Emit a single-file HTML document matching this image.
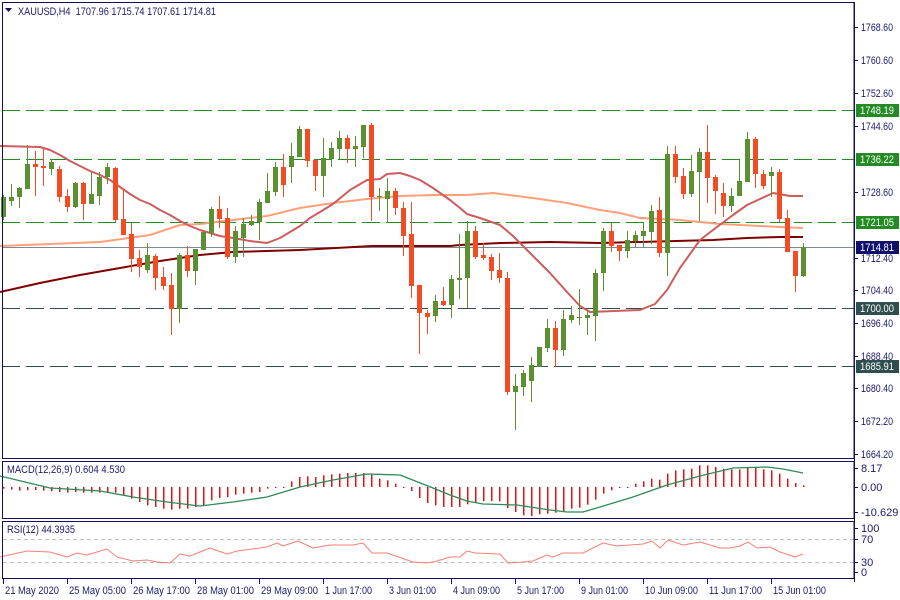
<!DOCTYPE html>
<html><head><meta charset="utf-8"><style>
html,body{margin:0;padding:0;background:#fff;width:900px;height:600px;overflow:hidden}
svg{display:block;font-family:"Liberation Sans",sans-serif}
</style></head><body>
<svg id="s" width="900" height="600" xmlns="http://www.w3.org/2000/svg"></svg>
<script>
var C=[
"g 197 217 195 220","g 197 201 184 206","g 188 197 187 208","g 164 189 145 189","r 164 167 151 196","r 166 168 148 186","g 162 169 159 175","r 169 197 166 202","r 196 207 189 212","g 183 207 182 208",
"r 183 204 182 220","g 194 204 172 204","g 177 196 172 205","g 167 177 163 184","r 168 220 167 222","r 219 235 189 235","r 234 259 223 272","r 258 267 250 277","g 255 270 243 273","r 256 278 254 290",
"r 277 286 267 290","r 285 309 273 335","g 255 309 253 323","r 255 271 246 277","g 249 271 249 285","g 232 250 232 250","g 209 233 207 237","r 209 219 196 228","r 218 257 208 259","g 231 257 226 263",
"g 224 238 218 257","g 221 225 215 226","g 202 222 199 240","g 191 203 173 203","g 167 192 162 196","r 167 185 154 197","g 156 167 143 183","g 129 157 126 157","r 129 161 129 167","r 160 176 160 191",
"g 158 176 138 197","g 148 159 142 167","g 138 149 131 159","r 138 149 135 163","g 146 149 136 167","g 125 147 125 158","r 125 197 123 221","g 196 197 188 211","g 191 199 178 223","r 191 208 188 215",
"r 208 236 202 256","r 234 286 202 298","r 285 313 285 354","r 313 317 310 334","g 301 316 295 322","r 301 305 287 306","g 279 305 275 318","g 278 280 234 299","g 231 278 221 308","r 231 257 226 259",
"r 255 258 243 260","r 257 271 254 280","r 270 278 253 283","r 278 392 272 395","g 386 392 374 430","g 373 387 370 396","g 365 381 357 402","g 347 367 347 367","g 328 348 319 352","r 328 350 321 367",
"g 319 350 310 356","g 315 320 306 323","g 317 318 289 325","g 315 318 310 335","g 273 316 269 341","g 231 273 228 291","r 231 246 223 252","r 245 251 245 261","g 240 251 231 258","g 235 241 231 247",
"g 231 236 223 247","g 211 232 205 244","r 210 253 197 257","g 154 253 146 276","r 154 177 146 183","r 176 194 168 199","g 171 194 155 197","g 152 172 148 221","r 152 178 125 203","r 177 191 175 214",
"r 193 206 183 217","g 196 206 188 212","g 181 196 160 196","g 139 182 132 182","r 139 174 137 188","r 174 186 170 189","g 172 176 167 197","r 172 219 169 222","r 218 252 210 252","r 251 276 251 292",
"g 247 276 243 277"];
var H=[100,103,106,105,104,106,108,110,112,110,112,112,112,110,112,120,130,140,150,155,160,163,160,160,155,150,135,128,125,118,115,112,110,100,97,95,78,65,63,65,60,57,55,53,53,53,58,70,75,85,95,107,128,143,150,155,155,155,147,140,137,137,138,158,170,180,182,177,175,172,167,160,157,148,133,115,105,97,97,85,78,70,73,55,45,42,40,30,30,35,40,42,42,35,38,42,45,55,70,83,90];
var o='';
function L(x1,y1,x2,y2,c,w,d){o+='<line x1="'+x1+'" y1="'+y1+'" x2="'+x2+'" y2="'+y2+'" stroke="'+c+'" stroke-width="'+(w||1)+'"'+(d?' stroke-dasharray="'+d+'"':'')+'/>';}
function T(x,y,t,c,tl){o+='<text x="'+x+'" y="'+y+'" font-size="11" fill="'+(c||'#1b1b6b')+'"'+(tl?' textLength="'+tl+'" lengthAdjust="spacingAndGlyphs"':'')+'>'+t+'</text>';}
function P(pts,c,w){o+='<polyline fill="none" stroke="'+c+'" stroke-width="'+w+'" stroke-linejoin="round" points="'+pts+'"/>';}
L(2,110.5,854,110.5,'#228B22',1,'18 6');L(2,159.5,854,159.5,'#228B22',1,'18 6');L(2,222.5,854,222.5,'#228B22',1,'18 6');
L(2,308.5,854,308.5,'#2F4F4F',1,'18 6');L(2,366.5,854,366.5,'#2F4F4F',1,'18 6');
L(2,247.5,854,247.5,'#7f8a96',1);
P('0,292 40,283 80,275 120,268 160,261 200,255 233,252 300,250 372,246 450,246 460,245 500,243 550,242 600,243 713,240 747,238 780,237 803,237','#800000',2);
P('0,246 50,244 100,242 150,235 180,225 200,224 233,220 267,216 300,208 333,203 367,199 400,196 433,195 467,195 493,193 533,198 567,203 600,210 620,213 640,218 680,220 720,224 760,226 780,227 803,228','#FFA07A',2);
P('0,146 40,147 50,150 60,155 70,161 80,166 90,171 100,175 110,180 120,187 130,194 140,200 150,204 160,210 170,215 180,221 190,226 200,230 210,233 220,236 233,238 250,241 267,243 280,238 300,226 310,218 320,212 333,204 350,190 367,180 380,179 387,174 400,173 410,176 420,180 433,188 450,200 460,208 467,214 480,218 500,225 513,236 533,256 550,273 567,292 580,306 590,312 640,310 655,304 667,290 680,268 700,240 713,230 733,215 747,205 760,199 773,193 790,196 803,196','#CD5C5C',2);
for(var i=0;i<C.length;i++){var a=C[i].split(' '),x=3+8*i,col=a[0]=='g'?'#5B8F31':'#F14C24';
var bt=+a[1],bb=+a[2];if(bb-bt<1)bb=bt+1;
L(x+0.5,+a[3],x+0.5,+a[4],col,1);
o+='<rect x="'+(x-2)+'" y="'+bt+'" width="5" height="'+(bb-bt)+'" fill="'+col+'"/>';}
for(i=0;i<H.length;i++){var x=3+8*i,v=487+(H[i]-95)/3,t=Math.min(487,v),h=Math.max(1,Math.abs(v-487));
o+='<rect x="'+x+'" y="'+t+'" width="1.5" height="'+h+'" fill="#E41010"/>';}
P('0,476 50,488 100,491 133,497 167,502 200,506 233,502 267,497 300,487 333,480 367,474 400,475 433,488 450,495 467,501 483,504 517,505 550,510 567,512 583,512 600,507 633,497 667,485 700,476 733,468 767,467 783,469 803,473','#2E8B57',1.3);
L(3,539.5,854,539.5,'#c0c0c0',1,'4 3');L(3,562.5,854,562.5,'#c0c0c0',1,'4 3');
P('0,557 27,551 50,552 67,557 77,553 87,555 107,549 117,557 133,561 147,560 157,562 170,563 180,554 190,556 200,552 210,548 227,554 237,551 253,549 267,547 277,543 283,546 298,541 313,548 330,545 353,545 363,543 372,553 387,553 413,562 427,563 437,561 450,557 460,557 467,551 475,553 500,554 508,563 523,562 533,561 547,555 553,557 563,553 583,553 603,543 617,546 643,544 652,541 660,548 668,540 683,545 700,542 720,548 730,548 740,546 748,542 757,548 770,547 780,552 795,557 803,554','#FA8072',1);
var nv='#10105e';
o+='<rect x="2.5" y="2.5" width="851.5" height="456" fill="none" stroke="'+nv+'" stroke-width="1"/>';
o+='<rect x="2.5" y="461.5" width="851.5" height="57" fill="none" stroke="'+nv+'" stroke-width="1"/>';
o+='<rect x="2.5" y="521.5" width="851.5" height="57" fill="none" stroke="'+nv+'" stroke-width="1"/>';
L(854.5,2,854.5,582,nv,1);
var pl=[[27,'1768.60'],[60,'1760.60'],[93,'1752.60'],[126,'1744.60'],[192,'1728.60'],[258,'1712.40'],[290,'1704.40'],[323,'1696.40'],[356,'1688.40'],[388,'1680.40'],[421,'1672.20'],[454,'1664.20']];
pl.forEach(function(p){L(854,p[0]+0.5,858,p[0]+0.5,nv,1);T(861,p[0]+4,p[1],null,32);});
[[110,'1748.19','#228B22'],[159,'1736.22','#228B22'],[222,'1721.05','#228B22'],[247,'1714.81','#0f0f6e'],[308,'1700.00','#2F4F4F'],[366,'1685.91','#2F4F4F']].forEach(function(p){
o+='<rect x="856" y="'+(p[0]-6)+'" width="43" height="13" fill="'+p[2]+'"/>';T(860,p[0]+4,p[1],'#fff',34);});
[[468,'8.17'],[487,'0.00'],[512,'-10.629']].forEach(function(p){L(854,p[0]+0.5,858,p[0]+0.5,nv,1);T(861,p[0]+4,p[1]);});
[[528,'100'],[539,'70'],[562,'30'],[572,'0']].forEach(function(p){L(854,p[0]+0.5,858,p[0]+0.5,nv,1);T(861,p[0]+4,p[1]);});
[[3,'21 May 2020',54],[67,'25 May 05:00',57],[131,'26 May 17:00',57],[195,'28 May 01:00',57],[259,'29 May 09:00',57],[323,'1 Jun 17:00',47],[387,'3 Jun 01:00',47],[451,'4 Jun 09:00',47],[515,'5 Jun 17:00',47],[579,'9 Jun 01:00',47],[643,'10 Jun 09:00',53],[707,'11 Jun 17:00',53],[771,'15 Jun 01:00',53]].forEach(function(p){L(p[0]+0.5,579,p[0]+0.5,584,nv,1);T(p[0]+2,594,p[1],null,p[2]);});
o+='<polygon points="5,8 12,8 8.5,12" fill="'+nv+'"/>';
T(18,15,'XAUUSD,H4&#160; 1707.96 1715.74 1707.61 1714.81',null,198);
T(7,473,'MACD(12,26,9) 0.604 4.530',null,118);
T(7,533,'RSI(12) 44.3935',null,68);
document.getElementById('s').innerHTML=o;
</script>
</body></html>
